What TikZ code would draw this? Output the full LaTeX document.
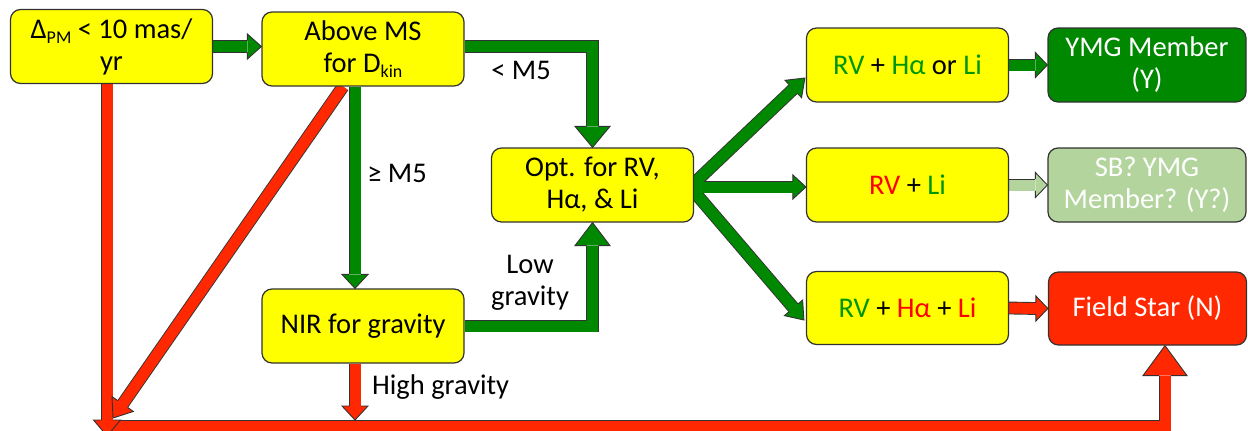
\documentclass[tikz,border=0pt]{standalone}
\usepackage{fontspec}
\setmainfont{Carlito}
\usetikzlibrary{calc,backgrounds}
\definecolor{ybox}{RGB}{255,255,0}
\definecolor{gfill}{RGB}{0,136,0}
\definecolor{rfill}{RGB}{255,40,0}
\definecolor{lgfill}{RGB}{179,213,157}
\definecolor{edge}{RGB}{50,50,50}
\definecolor{gtext}{RGB}{0,150,0}
\definecolor{rtext}{RGB}{255,0,0}
\newcommand\fsz{\fontsize{28.5}{32}\selectfont}
\newcommand\sub[1]{\raisebox{-5pt}{\fontsize{18}{18}\selectfont #1}}
\newcommand\gt[1]{\textcolor{gtext}{#1}}
\newcommand\rt[1]{\textcolor{rtext}{#1}}
\tikzset{
  box/.style={draw=edge, line width=1.2pt, rounded corners=10pt, minimum width=202pt,
    minimum height=74pt, align=center, inner sep=0pt, font=\fsz, text=black, fill=ybox},
  endbox/.style={box, minimum width=198pt, text=white},
  lbl/.style={font=\fsz, inner sep=0pt, align=center},
  shaftout/.style={draw=edge, line width=12.8pt, line join=miter},
  shaftin/.style={line width=11pt, line join=miter},
}
\newcommand\shaftpath[2]{%
  \draw[shaftout] #2;
  \draw[shaftin, draw=#1] #2;}
\newcommand\ahead[4]{%
  \filldraw[fill=#1, draw=edge, line width=0.9pt, line join=miter]
    ($(#2)!5.95pt!90:(#3)$) -- ($(#2)!#4!90:(#3)$) -- (#3) --
    ($(#2)!#4!-90:(#3)$) -- ($(#2)!5.95pt!-90:(#3)$);}
\begin{document}
\begin{tikzpicture}[x=1pt,y=-1pt]
\useasboundingbox (0,0) rectangle (1248,431);
% nodes
\node[box] (A) at (111.5,46.5) {Δ\sub{PM} < 10 mas/\\yr};
\node[box] (B) at (363,49) {Above MS\\for D\sub{kin}};
\node[box] (C) at (592.5,185) {Opt. for RV,\\Hα, \& Li};
\node[box] (D) at (363,326) {NIR for gravity};
\node[box] (E) at (907.5,65) {\gt{RV} + \gt{Hα} or \gt{Li}};
\node[endbox, fill=gfill] (F) at (1147,65) {YMG Member\\(Y)};
\node[box] (G) at (907.5,185) {\rt{RV} + \gt{Li}};
\node[endbox, fill=lgfill] (H) at (1147,185) {SB? YMG\\Member? (Y?)};
\node[box, minimum height=73pt] (I) at (907.5,308) {\gt{RV} + \rt{Hα} + \rt{Li}};
\node[endbox, fill=rfill, minimum height=73pt] (J) at (1147.5,308.5) {Field Star (N)};
% labels
\node[lbl] (lM5) at (521,70) {< M5};
\node[lbl] (gM5) at (397,173) {≥ M5};
\node[lbl] (low) at (530,283) {Low\\gravity};
\node[lbl, anchor=west] (high) at (372,387) {High gravity};
% arrows
\begin{scope}[on background layer]
\clip (0,0) rectangle (1248,431);
% bottom bar to Field Star
\coordinate (barS) at (107,426);
\coordinate (jT) at ($(J.south)+(17.5,0)$);
\coordinate (jM) at ($(jT)+(0,30)$);
\shaftpath{rfill}{(barS) -| (jM)}
\ahead{rfill}{jM}{jT}{22pt}
% A -> B
\coordinate (abT) at (B.west |- A.east);
\coordinate (abM) at ($(abT)+(-14,0)$);
\shaftpath{gfill}{(A.east) -- (abM)}
\ahead{gfill}{abM}{abT}{12.5pt}
% B -> C
\coordinate (bcS) at ($(B.east)+(0,-2.5)$);
\coordinate (bcM) at ($(C.north)+(0,-21)$);
\shaftpath{gfill}{(bcS) -| (bcM)}
\ahead{gfill}{bcM}{C.north}{17.5pt}
% B -> D
\coordinate (bdS) at ($(B.south)+(-8,0)$);
\coordinate (bdT) at ($(D.north)+(-8,0)$);
\coordinate (bdM) at ($(bdT)+(0,-14)$);
\shaftpath{gfill}{(bdS) -- (bdM)}
\ahead{gfill}{bdM}{bdT}{13pt}
% D -> C
\coordinate (dcM) at ($(C.south)+(0,23)$);
\shaftpath{gfill}{(D.east) -| (dcM)}
\ahead{gfill}{dcM}{C.south}{17.5pt}
% A -> bar
\coordinate (aS) at ($(A.south)+(-4.5,0)$);
\coordinate (aT) at ($(aS |- barS)+(0,10)$);
\coordinate (aM) at ($(aT)+(0,-16)$);
\shaftpath{rfill}{(aS) -- (aM)}
\ahead{rfill}{aM}{aT}{13.5pt}
% B -> bar (diagonal)
\coordinate (bgS) at ($(B.south)+(-20,0)$);
\coordinate (bgT) at ($(barS)+(6,-8)$);
\coordinate (bgM) at ($(bgT)!17pt!(bgS)$);
\shaftpath{rfill}{(bgS) -- (bgM)}
\ahead{rfill}{bgM}{bgT}{13pt}
% D -> bar
\coordinate (ddS) at ($(D.south)+(-8,0)$);
\coordinate (ddT) at ($(ddS |- barS)+(0,-6)$);
\coordinate (ddM) at ($(ddT)+(0,-14)$);
\shaftpath{rfill}{(ddS) -- (ddM)}
\ahead{rfill}{ddM}{ddT}{13pt}
% C fan
\coordinate (cO) at ($(C.east)+(-4,2)$);
\coordinate (ceT) at ($(E.west)+(-1,13)$);
\coordinate (ceM) at ($(ceT)!16pt!(cO)$);
\coordinate (cgT) at ($(G.west)+(0,2)$);
\coordinate (cgM) at ($(cgT)+(-13,0)$);
\coordinate (ciT) at ($(I.west)+(-2,12)$);
\coordinate (ciM) at ($(ciT)!16pt!(cO)$);
\draw[shaftout] (cO) -- (ceM);
\draw[shaftout] (cO) -- (cgM);
\draw[shaftout] (cO) -- (ciM);
\draw[shaftin, draw=gfill] (cO) -- (ceM);
\draw[shaftin, draw=gfill] (cO) -- (cgM);
\draw[shaftin, draw=gfill] (cO) -- (ciM);
\ahead{gfill}{ceM}{ceT}{12pt}
\ahead{gfill}{cgM}{cgT}{12pt}
\ahead{gfill}{ciM}{ciT}{12pt}
% E -> F, G -> H, I -> J
\coordinate (efM) at ($(F.west)+(-12,0)$);
\shaftpath{gfill}{(E.east) -- (efM)}
\ahead{gfill}{efM}{F.west}{12.5pt}
\coordinate (ghM) at ($(H.west)+(-12,0)$);
\shaftpath{lgfill}{(G.east) -- (ghM)}
\ahead{lgfill}{ghM}{H.west}{12.5pt}
\coordinate (ijM) at ($(J.west)+(-12,0)$);
\shaftpath{rfill}{(I.east) -- (ijM)}
\ahead{rfill}{ijM}{J.west}{12.5pt}
\end{scope}
\end{tikzpicture}
\end{document}
